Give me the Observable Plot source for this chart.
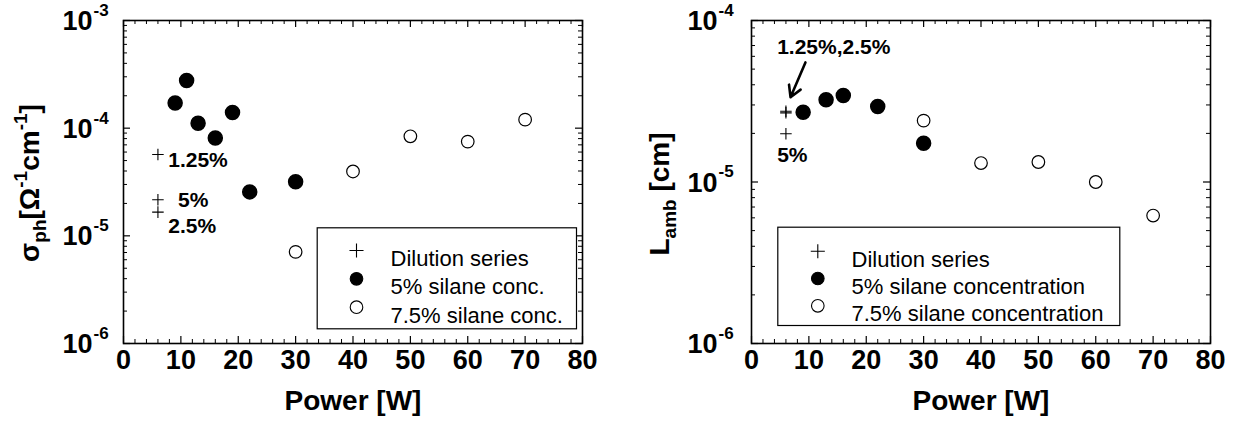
<!DOCTYPE html>
<html><head><meta charset="utf-8">
<script src="https://cdn.jsdelivr.net/npm/d3@7"></script>
<script src="https://cdn.jsdelivr.net/npm/@observablehq/plot@0.6"></script>
<style>
body{margin:0;background:#fff;}
#row{display:flex;width:1236px;height:424px;}
</style></head><body><div id="row"></div>
<script>
const FONT = 'Arial, "Liberation Sans", Helvetica, sans-serif';

// ---------- Left panel: photoconductivity ----------
const powerFilledL = [9, 11, 13, 16, 19, 22, 30];
const sigmaFilled  = [1.71e-4, 2.77e-4, 1.11e-4, 8.1e-5, 1.40e-4, 2.56e-5, 3.18e-5];
const powerOpenL   = [30, 40, 50, 60, 70];
const sigmaOpen    = [7.1e-6, 3.96e-5, 8.4e-5, 7.5e-5, 1.2e-4];
const dilNamesL    = ["1.25%", "2.5%", "5%"];
const powerDilL    = [6, 6, 6];
const sigmaDil     = [5.7e-5, 1.66e-5, 2.16e-5];
const annTextL     = ["1.25%", "5%", "2.5%"];
const annXL        = [7.8, 9.5, 7.8];
const annYL        = [5.0e-5, 2.13e-5, 1.23e-5];
const legendL      = ["Dilution series", "5% silane conc.", "7.5% silane conc."];

// ---------- Right panel: ambipolar diffusion length ----------
const powerFilledR = [9, 13, 16, 22, 30];
const lambFilled   = [2.70e-5, 3.23e-5, 3.43e-5, 2.93e-5, 1.74e-5];
const powerOpenR   = [30, 40, 50, 60, 70];
const lambOpen     = [2.40e-5, 1.31e-5, 1.33e-5, 1.0e-5, 6.2e-6];
const dilNamesR    = ["1.25%", "2.5%", "5%"];
const powerDilR    = [6, 6, 6];
const lambDil      = [2.74e-5, 2.68e-5, 1.99e-5];
const annTextR     = ["1.25%,2.5%", "5%"];
const annXR        = [4.47, 4.47];
const annYR        = [6.84e-5, 1.46e-5];
const arrowX1 = [9.4], arrowY1 = [5.5e-5], arrowX2 = [6.8], arrowY2 = [3.35e-5];
const legendR      = ["Dilution series", "5% silane concentration", "7.5% silane concentration"];

const xTicksMajor = [0, 10, 20, 30, 40, 50, 60, 70, 80];
const xTicksMinor = d3.range(0, 81, 2).filter(d => d % 10 !== 0);

function logTicks([lo, hi]) {
  const major = [], minor = [];
  for (let e = Math.round(Math.log10(lo)); e <= Math.round(Math.log10(hi)); e++) {
    major.push(Math.pow(10, e));
    if (e < Math.round(Math.log10(hi))) for (let m = 2; m <= 9; m++) minor.push(m * Math.pow(10, e));
  }
  return {major, minor};
}

function panel(o) {
  const width = 618, height = 424;
  const plotW = width - o.mL - o.mR, plotH = height - o.mT - o.mB;
  const {major: yMajor, minor: yMinor} = logTicks(o.yDomain);
  const zip = (xs, ys) => xs.map((x, i) => ({x, y: ys[i]}));
  const bold = {fontSize: 27, fontWeight: "bold", fontFamily: FONT, fill: "black"};
  const legendSymbols = [
    {symbol: "plus", fill: "none", stroke: "black", r: 4.6},
    {symbol: "circle", fill: "black", stroke: "black", r: 6.3},
    {symbol: "circle", fill: "white", stroke: "black", r: 6.3}
  ];
  const marks = [
    // inward ticks on all four sides
    Plot.tickX(xTicksMajor, {x: d => d, insetTop: plotH - 7, stroke: "black", strokeWidth: 1.2}),
    Plot.tickX(xTicksMajor, {x: d => d, insetBottom: plotH - 7, stroke: "black", strokeWidth: 1.2}),
    Plot.tickX(xTicksMinor, {x: d => d, insetTop: plotH - 4, stroke: "black", strokeWidth: 1}),
    Plot.tickX(xTicksMinor, {x: d => d, insetBottom: plotH - 4, stroke: "black", strokeWidth: 1}),
    Plot.tickY(yMajor, {y: d => d, insetRight: plotW - 7, stroke: "black", strokeWidth: 1.2}),
    Plot.tickY(yMajor, {y: d => d, insetLeft: plotW - 7, stroke: "black", strokeWidth: 1.2}),
    Plot.tickY(yMinor, {y: d => d, insetRight: plotW - 4, stroke: "black", strokeWidth: 1}),
    Plot.tickY(yMinor, {y: d => d, insetLeft: plotW - 4, stroke: "black", strokeWidth: 1}),
    Plot.frame({stroke: "black", strokeWidth: 1.6}),
    // tick labels
    Plot.text(xTicksMajor, {x: d => d, frameAnchor: "bottom", dy: 25, text: d => String(d), ...bold}),
    Plot.text(yMajor, {y: d => d, frameAnchor: "left", dx: -o.yLabelGap, dy: 1, text: () => "10", textAnchor: "end", ...bold}),
    Plot.text(yMajor, {y: d => d, frameAnchor: "left", dx: -o.yLabelGap + 1, dy: -10, text: d => String(Math.round(Math.log10(d))), textAnchor: "start", ...bold, fontSize: 17}),
    Plot.text(["Power [W]"], {frameAnchor: "bottom", dy: 66, ...bold, fontSize: 28}),
    // data
    Plot.dot(zip(o.dilX, o.dilY), {x: "x", y: "y", symbol: "plus", r: 3.8, stroke: "black", strokeWidth: 1.1}),
    Plot.dot(zip(o.filledX, o.filledY), {x: "x", y: "y", r: 7, fill: "black", stroke: "black"}),
    Plot.dot(zip(o.openX, o.openY), {x: "x", y: "y", r: 6.3, fill: "white", stroke: "black", strokeWidth: 1.2}),
    // annotations
    Plot.text(o.annText.map((t, i) => ({t, x: o.annX[i], y: o.annY[i]})), {x: "x", y: "y", text: "t", textAnchor: "start", ...bold, fontSize: 21}),
    // legend
    Plot.frame({insetLeft: o.legBox[0], insetRight: o.legBox[1], insetTop: o.legBox[2], insetBottom: o.legBox[3], stroke: "black", strokeWidth: 1.2, fill: "white"}),
    ...o.legend.flatMap((label, i) => [
      Plot.dot([label], {frameAnchor: "top-left", dx: o.legMarkX, dy: o.legY[i], ...legendSymbols[i], strokeWidth: 1.1}),
      Plot.text([label], {frameAnchor: "top-left", dx: o.legTextX, dy: o.legY[i], text: d => d, textAnchor: "start", fontSize: 22, fontFamily: FONT, fill: "black"})
    ])
  ];
  if (o.arrow) marks.push(Plot.arrow(o.arrow, {x1: "x1", y1: "y1", x2: "x2", y2: "y2", stroke: "black", strokeWidth: 2.6, headLength: 13}));
  const svg = Plot.plot({
    width, height, marginLeft: o.mL, marginRight: o.mR, marginTop: o.mT, marginBottom: o.mB,
    style: {background: "white", fontFamily: FONT, overflow: "visible"},
    x: {domain: [0, 80], axis: null},
    y: {type: "log", domain: o.yDomain, axis: null},
    marks
  });
  // rotated y title with sub/superscripts
  const t = d3.select(svg).append("text")
    .attr("transform", `translate(${o.yTitleX},${o.yTitleY}) rotate(-90)`)
    .attr("text-anchor", "middle").attr("font-family", FONT)
    .attr("font-size", 28).attr("font-weight", "bold").attr("fill", "black");
  o.yTitle.forEach(([s, dy, fs]) => {
    const ts = t.append("tspan").text(s);
    if (dy) ts.attr("dy", dy);
    if (fs) ts.attr("font-size", fs);
  });
  return svg;
}

const row = document.getElementById("row");
row.append(panel({
  mL: 123, mR: 36, mT: 20, mB: 81, yDomain: [1e-6, 1e-3], yLabelGap: 31,
  filledX: powerFilledL, filledY: sigmaFilled, openX: powerOpenL, openY: sigmaOpen,
  dilX: powerDilL, dilY: sigmaDil,
  annText: annTextL, annX: annXL, annY: annYL,
  legend: legendL, legBox: [193.7, 6, 207.3, 14.7], legMarkX: 233, legTextX: 267, legY: [230, 258.3, 286.7],
  yTitleX: 38.5, yTitleY: 183,
  yTitle: [["σ"], ["ph", 7, 19], ["[Ω", -7, 28], ["-1", -12, 19], ["cm", 12, 28], ["-1", -12, 19], ["]", 12, 28]]
}));
row.append(panel({
  mL: 133, mR: 26, mT: 20, mB: 81, yDomain: [1e-6, 1e-4], yLabelGap: 34,
  filledX: powerFilledR, filledY: lambFilled, openX: powerOpenR, openY: lambOpen,
  dilX: powerDilR, dilY: lambDil,
  annText: annTextR, annX: annXR, annY: annYR,
  arrow: arrowX1.map((x1, i) => ({x1, y1: arrowY1[i], x2: arrowX2[i], y2: arrowY2[i]})),
  legend: legendR, legBox: [26.3, 90.7, 206.7, 18], legMarkX: 66.3, legTextX: 100, legY: [230.7, 258, 285.3],
  yTitleX: 51, yTitleY: 194,
  yTitle: [["L"], ["amb", 7, 19], [" [cm]", -7, 28]]
}));
</script></body></html>
